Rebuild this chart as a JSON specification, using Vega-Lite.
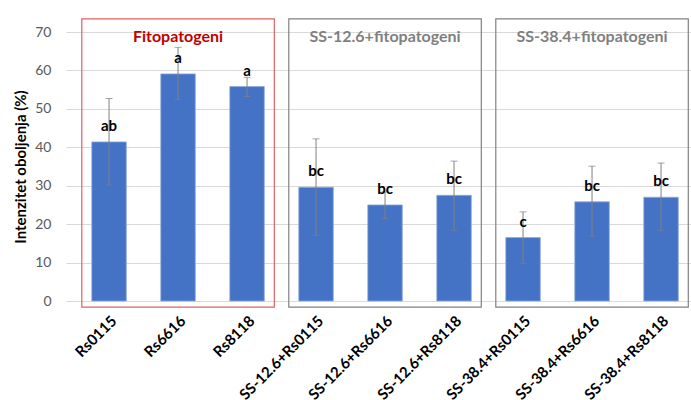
{
  "$schema": "https://vega.github.io/schema/vega-lite/v6.json",
  "autosize": "none",
  "padding": {"left": 66, "top": 32, "right": 0, "bottom": 99},
  "width": 625,
  "height": 269,
  "background": "white",
  "config": {
    "font": "Lato",
    "view": {"stroke": null},
    "axisY": {
      "titleFontSize": 15,
      "titleFontWeight": "bold",
      "titleColor": "#000000",
      "titlePadding": 6,
      "labelFontSize": 14,
      "labelColor": "#595959",
      "labelPadding": 15,
      "ticks": false,
      "domain": false,
      "gridColor": "#D9D9D9",
      "gridWidth": 1
    },
    "axisX": {
      "labelAngle": -45,
      "labelFontWeight": "bold",
      "labelFontSize": 15,
      "labelColor": "#000000",
      "ticks": false,
      "domain": false,
      "grid": false,
      "labelPadding": 12,
      "labelDx": -10
    }
  },
  "datasets": {
    "bars": [
      {"name": "Rs0115", "mean": 41.4, "lo": 30.2, "hi": 52.7, "letter": "ab"},
      {"name": "Rs6616", "mean": 59.1, "lo": 52.4, "hi": 66.0, "letter": "a"},
      {"name": "Rs8118", "mean": 55.8, "lo": 53.2, "hi": 58.2, "letter": "a"},
      {"name": "SS-12.6+Rs0115", "mean": 29.6, "lo": 17.1, "hi": 42.2, "letter": "bc"},
      {"name": "SS-12.6+Rs6616", "mean": 25.0, "lo": 21.5, "hi": 28.4, "letter": "bc"},
      {"name": "SS-12.6+Rs8118", "mean": 27.5, "lo": 18.4, "hi": 36.4, "letter": "bc"},
      {"name": "SS-38.4+Rs0115", "mean": 16.5, "lo": 9.8, "hi": 23.2, "letter": "c"},
      {"name": "SS-38.4+Rs6616", "mean": 25.8, "lo": 16.9, "hi": 35.1, "letter": "bc"},
      {"name": "SS-38.4+Rs8118", "mean": 27.0, "lo": 18.4, "hi": 35.9, "letter": "bc"}
    ],
    "groups": [
      {"start": "Rs0115", "mid": "Rs6616", "end": "Rs8118", "title": "Fitopatogeni", "kind": "red"},
      {"start": "SS-12.6+Rs0115", "mid": "SS-12.6+Rs6616", "end": "SS-12.6+Rs8118", "title": "SS-12.6+fitopatogeni", "kind": "gray"},
      {"start": "SS-38.4+Rs0115", "mid": "SS-38.4+Rs6616", "end": "SS-38.4+Rs8118", "title": "SS-38.4+fitopatogeni", "kind": "gray"}
    ]
  },
  "encoding": {
    "x": {
      "field": "name",
      "type": "nominal",
      "sort": null,
      "scale": {"paddingInner": 0.5, "paddingOuter": 0.279, "align": 0.67},
      "axis": {"title": null}
    }
  },
  "layer": [
    {
      "data": {"name": "bars"},
      "mark": {"type": "bar", "color": "#4472C4", "stroke": "#8FAADC", "strokeWidth": 0.8},
      "encoding": {
        "y": {
          "field": "mean",
          "type": "quantitative",
          "scale": {"domain": [0, 70], "nice": false},
          "axis": {"title": "Intenzitet oboljenja (%)", "values": [0, 10, 20, 30, 40, 50, 60, 70]}
        }
      }
    },
    {
      "data": {"name": "bars"},
      "mark": {"type": "rule", "color": "#808080", "strokeWidth": 1},
      "encoding": {
        "y": {"field": "lo", "type": "quantitative", "axis": {"title": "Intenzitet oboljenja (%)", "values": [0, 10, 20, 30, 40, 50, 60, 70]}},
        "y2": {"field": "hi"}
      }
    },
    {
      "data": {"name": "bars"},
      "mark": {"type": "tick", "color": "#808080", "thickness": 1, "size": 7, "orient": "horizontal"},
      "encoding": {
        "y": {"field": "lo", "type": "quantitative", "axis": {"title": "Intenzitet oboljenja (%)", "values": [0, 10, 20, 30, 40, 50, 60, 70]}}
      }
    },
    {
      "data": {"name": "bars"},
      "mark": {"type": "tick", "color": "#808080", "thickness": 1, "size": 7, "orient": "horizontal"},
      "encoding": {
        "y": {"field": "hi", "type": "quantitative", "axis": {"title": "Intenzitet oboljenja (%)", "values": [0, 10, 20, 30, 40, 50, 60, 70]}}
      }
    },
    {
      "data": {"name": "bars"},
      "mark": {"type": "text", "fontSize": 15, "fontWeight": "bold", "color": "#000000", "baseline": "alphabetic", "dy": -11},
      "encoding": {
        "y": {"field": "mean", "type": "quantitative", "axis": {"title": "Intenzitet oboljenja (%)", "values": [0, 10, 20, 30, 40, 50, 60, 70]}},
        "text": {"field": "letter"}
      }
    },
    {
      "data": {"name": "groups"},
      "mark": {"type": "rect", "fill": null, "fillOpacity": 0, "strokeWidth": 1.2, "xOffset": -10, "x2Offset": 10, "clip": false},
      "encoding": {
        "x": {"field": "start", "type": "nominal", "sort": null, "bandPosition": 0},
        "x2": {"field": "end", "bandPosition": 1},
        "y": {"datum": -1.6, "type": "quantitative", "axis": {"title": "Intenzitet oboljenja (%)", "values": [0, 10, 20, 30, 40, 50, 60, 70]}},
        "y2": {"datum": 73.4},
        "stroke": {
          "field": "kind",
          "type": "nominal",
          "scale": {"domain": ["red", "gray"], "range": ["#E06060", "#808080"]},
          "legend": null
        }
      }
    },
    {
      "data": {"name": "groups"},
      "mark": {"type": "text", "fontSize": 16, "fontWeight": "bold", "baseline": "middle", "align": "center"},
      "encoding": {
        "x": {"field": "mid", "type": "nominal", "sort": null},
        "y": {"datum": 68.8, "type": "quantitative", "axis": {"title": "Intenzitet oboljenja (%)", "values": [0, 10, 20, 30, 40, 50, 60, 70]}},
        "text": {"field": "title"},
        "color": {
          "field": "kind",
          "type": "nominal",
          "scale": {"domain": ["red", "gray"], "range": ["#C00000", "#7F7F7F"]},
          "legend": null
        }
      }
    }
  ],
  "resolve": {"scale": {"color": "independent", "stroke": "independent"}}
}
